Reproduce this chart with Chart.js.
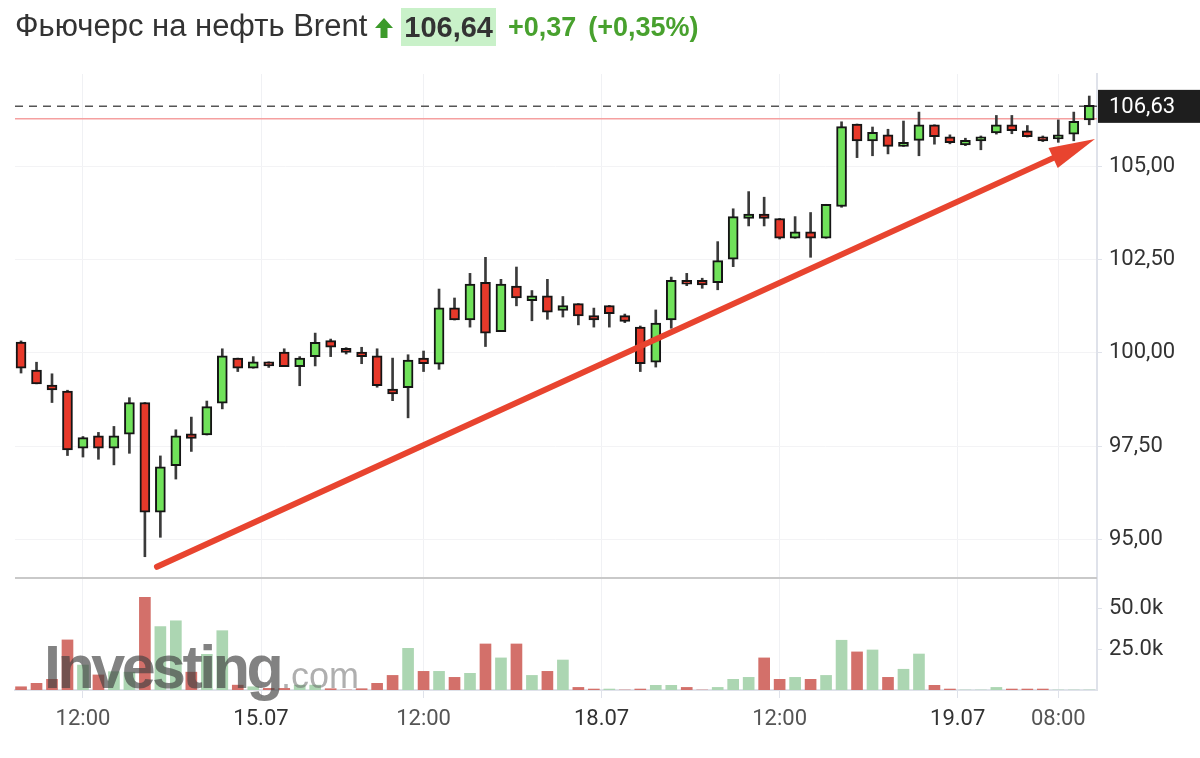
<!DOCTYPE html>
<html><head><meta charset="utf-8">
<script src="https://cdn.jsdelivr.net/npm/chart.js@4.4.1/dist/chart.umd.min.js"></script>
<style>
html,body{margin:0;padding:0;background:#fff;width:1200px;height:758px;overflow:hidden}
#c{position:absolute;left:0;top:0}
#hdr{position:absolute;left:15px;top:8px;height:38px;display:flex;align-items:center;white-space:nowrap;font-family:"Liberation Sans",Arial,sans-serif;z-index:2}
#ttl{font-size:31px;color:#333;margin-top:-3px}
#upArrow{margin-left:8px;margin-top:2px}
#last{margin-left:8px;background:#c9f1c9;font-weight:bold;font-size:29px;color:#333;height:38px;line-height:38px;padding:0 3px}
.chg{color:#48a12e;font-weight:bold;font-size:27px}
#chg1{margin-left:12px}
#chg2{margin-left:12px}
</style></head><body>
<div id="hdr">
  <span id="ttl"></span>
  <svg id="upArrow" width="18" height="20" viewBox="0 0 18 20"><path d="M9 0 L18 10 L12.5 10 L12.5 20 L5.5 20 L5.5 10 L0 10 Z" fill="#3c9a2a"/></svg>
  <span id="last"></span>
  <span id="chg1" class="chg"></span>
  <span id="chg2" class="chg"></span>
</div>
<canvas id="c" width="1200" height="758"></canvas>
<script>
// ---- header texts ----
const titleText = "Фьючерс на нефть Brent";
const lastText = "106,64";
const changeText = "+0,37";
const changePctText = "(+0,35%)";

// ---- candles (index = bar number) ----
const opens  = [100.29,99.54,99.14,98.98,97.45,97.78,97.45,97.82,98.67,95.73,96.98,97.83,97.80,98.65,99.86,99.59,99.76,100.02,99.63,99.90,100.33,100.12,100.02,99.92,99.03,99.07,99.86,99.70,101.21,100.88,101.89,100.57,101.79,101.40,101.53,101.14,101.32,101.00,101.27,101.00,100.69,99.75,100.88,101.94,101.94,101.88,102.51,103.60,103.72,103.60,103.07,103.24,103.07,103.92,106.13,105.68,105.84,105.53,105.69,106.11,105.79,105.57,105.68,105.89,106.11,105.95,105.79,105.73,105.86,106.24];
const highs  = [100.32,99.75,99.44,99.00,97.76,97.87,98.03,98.80,98.67,97.24,97.94,98.28,98.71,100.11,99.86,99.90,99.76,100.11,99.90,100.53,100.37,100.14,100.15,100.11,99.86,99.95,100.05,101.71,101.47,102.13,102.56,101.97,102.30,101.67,101.97,101.51,101.32,101.20,101.27,101.04,100.72,101.15,102.03,102.13,102.00,102.98,103.86,104.32,104.17,103.60,103.65,103.76,103.98,106.19,106.13,106.05,105.99,106.21,106.45,106.11,105.84,105.75,105.81,106.36,106.36,106.09,105.81,106.24,106.45,106.88];
const lows   = [99.46,99.17,98.67,97.25,97.21,97.15,97.00,97.31,94.54,95.06,96.62,97.36,97.80,98.50,99.50,99.59,99.61,99.63,99.12,99.65,99.90,99.97,99.71,99.08,98.72,98.26,99.50,99.56,100.88,100.69,100.17,100.57,101.26,100.86,100.90,100.96,100.75,100.69,100.69,100.81,99.50,99.62,100.66,101.80,101.73,101.69,102.31,103.40,103.40,103.05,103.07,102.56,103.07,103.90,105.23,105.28,105.33,105.53,105.28,105.59,105.60,105.55,105.44,105.86,105.87,105.78,105.66,105.64,105.68,106.11];
const closes = [99.59,99.17,99.01,97.40,97.73,97.45,97.78,98.67,95.73,96.95,97.78,97.71,98.56,99.92,99.59,99.76,99.65,99.63,99.86,100.28,100.15,100.01,99.90,99.12,98.90,99.81,99.71,101.21,100.88,101.84,100.53,101.84,101.47,101.53,101.09,101.27,100.99,100.88,101.05,100.84,99.71,100.80,101.94,101.84,101.82,102.47,103.65,103.72,103.60,103.07,103.24,103.07,103.98,106.06,105.68,105.91,105.53,105.64,106.11,105.79,105.63,105.69,105.79,106.11,105.95,105.79,105.68,105.84,106.20,106.63];
// volume, thousands of contracts
const volumes = [2.0,4.1,6.6,30.9,15.4,9.3,11.3,11.0,57.2,39.1,42.7,11.0,22.0,36.6,3.0,2.0,1.0,1.0,3.0,3.0,0.8,0,0.8,4.1,9.0,25.7,11.5,11.5,7.8,10.3,28.4,19.8,28.4,9.0,11.5,18.5,1.6,0.6,0.6,0,0.6,2.9,2.9,1.6,0,1.6,6.6,7.8,19.8,6.6,7.8,6.6,9.0,30.7,23.5,24.7,7.8,12.8,22.2,2.9,0.6,0,0,1.6,0.6,0.6,0.6,0,0,0];

// ---- axes ----
const xTickAt     = [4, 15.5, 26, 37.5, 49, 60.5, 67];
const xTickLabels = ["12:00","15.07","12:00","18.07","12:00","19.07","08:00"];
const priceTicks  = [95, 97.5, 100, 102.5, 105];
const volumeTicks = [25, 50];
const currentPrice = 106.63;
const prevClose = 106.27;
// annotation arrow, in (bar index, price)
const arrowStart = [8.78, 94.27];
const arrowEnd   = [69.37, 105.73];

document.getElementById('ttl').textContent = titleText;
document.getElementById('last').textContent = lastText;
document.getElementById('chg1').textContent = changeText;
document.getElementById('chg2').textContent = changePctText;

const GREEN = '#70e25a', RED = '#e8392a';
const idx = opens.map((_, i) => i);
const wickData = idx.map(i => ({x: i, y: [lows[i], highs[i]]}));
const bodyData = idx.map(i => ({x: i, y: [opens[i], closes[i]]}));
const bodyColors = idx.map(i => closes[i] >= opens[i] ? GREEN : RED);
const volData = idx.map(i => ({x: i, y: volumes[i]}));
const volColors = idx.map(i => {
  const up = i === 0 ? closes[0] >= opens[0] : closes[i] >= closes[i-1];
  return up ? '#acd6b2' : '#d3706a';
});

const FONT = 'Roboto, "Liberation Sans", sans-serif';

const overlay = {
  id: 'overlay',
  beforeDatasetsDraw(chart) {
    const {ctx, chartArea: a, scales} = chart;
    const y = scales.y;
    ctx.save();
    // previous close line
    ctx.strokeStyle = '#f5a0a0';
    ctx.lineWidth = 1.5;
    let py = y.getPixelForValue(prevClose);
    ctx.beginPath(); ctx.moveTo(a.left, py); ctx.lineTo(a.right, py); ctx.stroke();
    // current price dashed line
    ctx.strokeStyle = '#555';
    ctx.lineWidth = 1.5;
    ctx.setLineDash([8, 6]);
    py = y.getPixelForValue(currentPrice) + 1;
    ctx.beginPath(); ctx.moveTo(a.left, py); ctx.lineTo(a.right, py); ctx.stroke();
    ctx.setLineDash([]);
    // panel separator
    ctx.strokeStyle = '#c9c9c9';
    ctx.lineWidth = 2;
    ctx.beginPath(); ctx.moveTo(a.left, y.bottom); ctx.lineTo(a.right, y.bottom); ctx.stroke();
    ctx.restore();
  },
  afterDatasetsDraw(chart) {
    const {ctx, scales} = chart;
    const xs = scales.x, ys = scales.y, yv = scales.yv;
    ctx.save();
    // watermark
    const base = yv.getPixelForValue(0) - 2;
    ctx.textBaseline = 'alphabetic';
    ctx.font = 'bold 61px "Liberation Sans", Arial, sans-serif';
    try { ctx.letterSpacing = '-3.5px'; } catch (e) {}
    ctx.fillStyle = 'rgba(65,65,65,0.66)';
    ctx.fillText('Investing', xs.left + 29, base);
    try { ctx.letterSpacing = '0px'; } catch (e) {}
    ctx.font = '36px "Liberation Sans", Arial, sans-serif';
    ctx.fillStyle = 'rgba(110,110,110,0.55)';
    ctx.fillText('.com', xs.left + 266, base);
    // arrow
    const x1 = xs.getPixelForValue(arrowStart[0]), y1 = ys.getPixelForValue(arrowStart[1]);
    const x2 = xs.getPixelForValue(arrowEnd[0]), y2 = ys.getPixelForValue(arrowEnd[1]);
    const ang = Math.atan2(y2 - y1, x2 - x1);
    const L = 46, W = 11;
    const c = Math.cos(ang), s = Math.sin(ang);
    const bx = x2 - L * c, by = y2 - L * s;
    ctx.strokeStyle = '#e8442f';
    ctx.fillStyle = '#e8442f';
    ctx.lineWidth = 6;
    ctx.lineCap = 'round';
    ctx.beginPath(); ctx.moveTo(x1, y1); ctx.lineTo(bx + 4 * c, by + 4 * s); ctx.stroke();
    ctx.beginPath();
    ctx.moveTo(x2, y2);
    ctx.lineTo(bx + W * s, by - W * c);
    ctx.lineTo(bx - W * s, by + W * c);
    ctx.closePath(); ctx.fill();
    ctx.restore();
  },
  afterDraw(chart) {
    const {ctx, scales} = chart;
    const ys = scales.y;
    const py = ys.getPixelForValue(currentPrice) + 1;
    ctx.save();
    ctx.fillStyle = '#1e1e1e';
    ctx.fillRect(ys.left + 1, py - 16.5, 200, 33);
    ctx.fillStyle = '#fff';
    ctx.font = '22px ' + FONT;
    ctx.textBaseline = 'middle';
    ctx.textAlign = 'left';
    ctx.fillText(currentPrice.toFixed(2).replace('.', ','), ys.left + 12, py + 1);
    ctx.restore();
  }
};

new Chart(document.getElementById('c'), {
  type: 'bar',
  data: {
    datasets: [
      {data: bodyData, xAxisID: 'x', yAxisID: 'y', backgroundColor: bodyColors, borderColor: '#151515', borderWidth: 2, borderSkipped: false, barThickness: 10, grouped: false, order: 0},
      {data: wickData, xAxisID: 'x', yAxisID: 'y', backgroundColor: '#3a3a3a', borderWidth: 0, barThickness: 2, grouped: false, order: 1},
      {data: volData, xAxisID: 'x', yAxisID: 'yv', backgroundColor: volColors, borderWidth: 0, barThickness: 11, grouped: false, order: 2}
    ]
  },
  options: {
    responsive: false,
    animation: false,
    events: [],
    layout: {padding: {left: 15, top: 74, right: 0, bottom: 0}},
    plugins: {legend: {display: false}, tooltip: {enabled: false}},
    scales: {
      x: {
        type: 'linear', position: 'bottom', min: -0.39, max: 69.5, offset: false,
        grid: {offset: false, color: '#f0f1f4', lineWidth: 1, tickColor: '#dfe2ea', tickLength: 8},
        border: {color: '#dfe2ea', width: 2},
        ticks: {
          autoSkip: false, maxRotation: 0, padding: 8,
          font: {family: FONT, size: 22},
          color: (c) => (xTickLabels[c.index] || '').indexOf('.') > 0 ? '#333' : '#555',
          callback: (v, i) => xTickLabels[i]
        },
        afterBuildTicks: (s) => { s.ticks = xTickAt.map(v => ({value: v})); },
        afterFit: (s) => { s.height = 68; }
      },
      y: {
        type: 'linear', position: 'right', stack: 'panes', stackWeight: 504,
        min: 93.97, max: 107.47,
        grid: {color: '#f3f3f5', tickColor: '#dfe2ea', tickLength: 5},
        border: {color: '#dfe2ea', width: 2},
        ticks: {padding: 7, color: '#333', font: {family: FONT, size: 22},
          callback: (v) => Number(v).toFixed(2).replace('.', ',')},
        afterBuildTicks: (s) => { s.ticks = priceTicks.map(v => ({value: v})); },
        afterFit: (s) => { s.width = 103; }
      },
      yv: {
        type: 'linear', position: 'right', stack: 'panes', stackWeight: 112,
        min: 0, max: 69.1,
        grid: {drawOnChartArea: false, tickColor: '#dfe2ea', tickLength: 5},
        border: {color: '#dfe2ea', width: 2},
        ticks: {padding: 7, color: '#333', font: {family: FONT, size: 22},
          callback: (v) => Number(v).toFixed(1) + 'k'},
        afterBuildTicks: (s) => { s.ticks = volumeTicks.map(v => ({value: v})); },
        afterFit: (s) => { s.width = 103; }
      }
    }
  },
  plugins: [overlay]
});
</script>
</body></html>
